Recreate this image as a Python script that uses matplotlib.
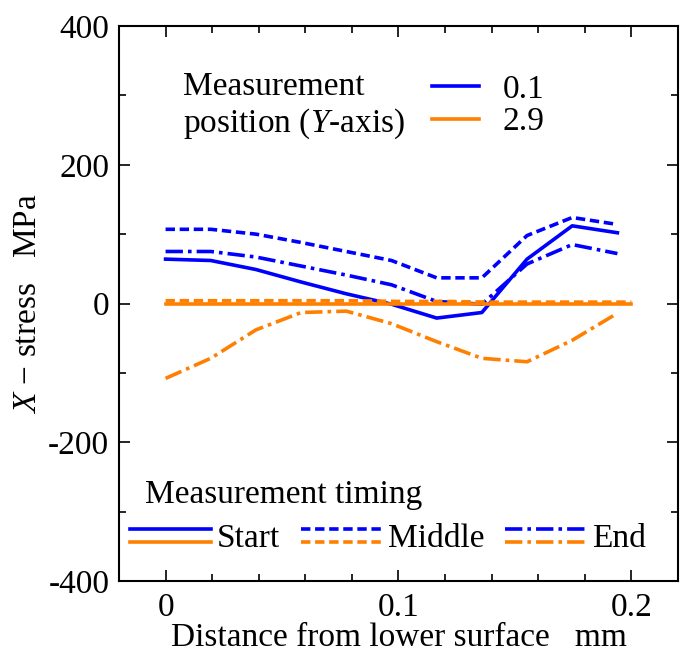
import matplotlib
matplotlib.use("Agg")
import matplotlib.pyplot as plt
from matplotlib.lines import Line2D
from matplotlib.legend_handler import HandlerBase
from matplotlib.ticker import MultipleLocator, FuncFormatter

plt.rcParams['font.family'] = ['Liberation Serif', 'DejaVu Serif']
plt.rcParams['mathtext.fontset'] = 'custom'
plt.rcParams['mathtext.rm'] = 'Liberation Serif'
plt.rcParams['mathtext.it'] = 'Liberation Serif:italic'

# distance from lower surface (mm)
dist = [0, 0.0194, 0.0388, 0.0582, 0.0776, 0.097, 0.1164, 0.1358, 0.1552, 0.1746, 0.194]
dist_full = [0, 0.02, 0.04, 0.06, 0.08, 0.1, 0.12, 0.14, 0.16, 0.18, 0.2]

# Y = 0.1 (blue)
start_01 = [64, 62, 49, 31, 14, -1, -21, -13, 64, 112, 102]
middle_01 = [107, 107, 100, 88, 75, 62, 37, 37, 98, 124, 114]
end_01 = [75, 75, 67, 54, 41, 27, 3, -1, 57, 85, 72]

# Y = 2.9 (orange)
start_29 = [0, 0, 0, 0, 0, 0, 0, 0, 0, 0, 0]
middle_29 = [4, 4, 4, 4, 4, 3, 3, 2, 2, 2, 2]
end_29 = [-108, -79, -38, -13, -11, -29, -55, -79, -84, -53, -14]

blue = '#0000ff'
orange = '#ff8000'
lw = 2.6
fs = 24
ls_start = '-'
ls_middle = (0, (2.6, 1.3))
ls_end = (0, (4.8, 1.4, 1.0, 1.4))


class StackedHandler(HandlerBase):
    def create_artists(self, legend, orig_handle, xdescent, ydescent,
                       width, height, fontsize, trans):
        artists = []
        offs = [0.27 * height, -0.27 * height]
        for h, off in zip(orig_handle, offs):
            y = height / 2 - ydescent + off
            ln = Line2D([-xdescent, -xdescent + width], [y, y])
            ln.update_from(h)
            ln.set_transform(trans)
            artists.append(ln)
        return artists


fig = plt.figure(figsize=(6.8, 6.52), dpi=100)
ax = fig.add_axes([0.175, 0.109, 0.822, 0.851])

ax.plot(dist, start_01, color=blue, lw=lw, ls=ls_start)
ax.plot(dist, middle_01, color=blue, lw=lw, ls=ls_middle)
ax.plot(dist, end_01, color=blue, lw=lw, ls=ls_end)
ax.plot(dist_full, middle_29, color=orange, lw=lw, ls=ls_middle)
ax.plot(dist_full, start_29, color=orange, lw=lw, ls=ls_start)
ax.plot(dist, end_29, color=orange, lw=lw, ls=ls_end)

ax.set_xlim(-0.02, 0.22)
ax.set_ylim(-400, 400)
ax.xaxis.set_major_locator(MultipleLocator(0.1))
ax.xaxis.set_minor_locator(MultipleLocator(0.02))
ax.yaxis.set_major_locator(MultipleLocator(200))
ax.yaxis.set_minor_locator(MultipleLocator(100))
ax.xaxis.set_major_formatter(FuncFormatter(lambda v, _: f"{v:g}"))
ax.yaxis.set_major_formatter(FuncFormatter(lambda v, _: f"{v:g}"))
ax.tick_params(which='both', direction='in', top=True, right=True, labelsize=fs)
ax.tick_params(axis='x', pad=8)
ax.tick_params(axis='y', pad=7)
ax.tick_params(which='major', length=8, width=1.2)
ax.tick_params(which='minor', length=5, width=1.2)
for s in ax.spines.values():
    s.set_linewidth(1.5)

ax.set_xlabel('Distance from lower surface   mm', fontsize=fs, labelpad=0)
ax.set_ylabel(r'$\mathit{X}$ − stress   MPa', fontsize=fs, labelpad=4)

# position legend
ax.text(0.1145, 0.876, 'Measurement', transform=ax.transAxes,
        fontsize=fs, va='baseline', ha='left')
ax.text(0.1145, 0.809, 'position ($\\mathit{Y}$-axis)', transform=ax.transAxes,
        fontsize=fs, va='baseline', ha='left')
pos_handles = [Line2D([], [], color=blue, lw=lw), Line2D([], [], color=orange, lw=lw)]
leg1 = ax.legend(pos_handles, ['0.1', '2.9'], loc='center left', bbox_to_anchor=(0.56, 0.856),
                 frameon=False, fontsize=fs, handlelength=1.4, handletextpad=0.72,
                 labelspacing=0.05, borderaxespad=0, borderpad=0)
ax.add_artist(leg1)

# timing legend
ax.text(0.047, 0.14, 'Measurement timing', transform=ax.transAxes,
        fontsize=fs, va='baseline', ha='left')
time_handles = []
for ls in [ls_start, ls_middle, ls_end]:
    time_handles.append((Line2D([], [], color=blue, lw=lw, ls=ls),
                         Line2D([], [], color=orange, lw=lw, ls=ls)))
ax.legend(time_handles, ['Start', 'Middle', 'End'], handler_map={tuple: StackedHandler()},
          loc='center left', bbox_to_anchor=(0.02, 0.076), ncol=3, frameon=False,
          fontsize=fs, handlelength=2.43, handletextpad=0.18, columnspacing=0.62,
          borderaxespad=0, borderpad=0)

fig.savefig('out.png', dpi=100)
